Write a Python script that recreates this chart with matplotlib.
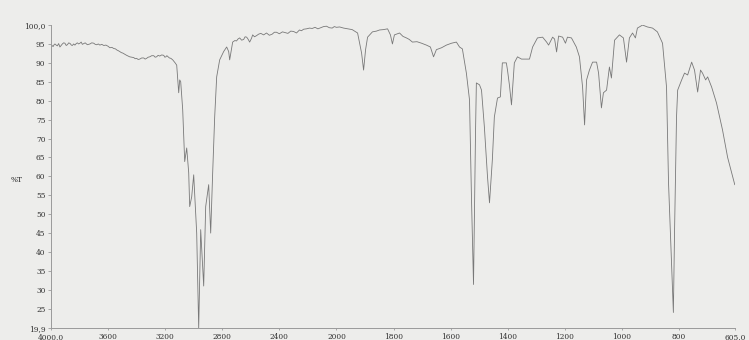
import numpy as np
import matplotlib
matplotlib.use("Agg")
import matplotlib.pyplot as plt
from matplotlib.ticker import FixedLocator, FixedFormatter

# ---- data (wavenumber cm-1, %T) ----
wavenumber = [
    4000, 3992, 3985, 3978, 3972, 3963, 3955, 3946, 3937, 3928, 3920, 3911, 3902, 3893,
    3885, 3875, 3865, 3857, 3850, 3841, 3832, 3823, 3815, 3806, 3797, 3788, 3780, 3770,
    3760, 3745, 3727, 3714, 3700, 3690, 3680, 3668, 3657, 3644, 3630, 3615, 3600, 3587,
    3573, 3560, 3548, 3538, 3527, 3515, 3506, 3497, 3484, 3470, 3459, 3448, 3434, 3420,
    3410, 3400, 3389, 3378, 3364, 3350, 3340, 3330, 3319, 3308, 3294, 3280, 3270, 3260,
    3249, 3238, 3224, 3210, 3202, 3195, 3188, 3182, 3170, 3160, 3147,
    3130, 3119, 3105, 3098, 3091, 3077, 3063, 3049, 3035, 3028, 3014, 3000, 2979, 2965,
    2951, 2930, 2916, 2895, 2881, 2867, 2853, 2839, 2818, 2790, 2769, 2755, 2748, 2727,
    2712, 2700, 2690, 2678, 2664, 2650, 2640, 2629, 2618, 2608, 2595, 2587, 2574, 2560,
    2545, 2530, 2510, 2490, 2470, 2450, 2435, 2420, 2400, 2378, 2360, 2340, 2320, 2300,
    2280, 2259, 2245, 2230, 2210, 2189, 2170, 2150, 2130, 2110, 2090, 2070, 2050, 2030,
    2015, 2000, 1989, 1975, 1960, 1945, 1926, 1912, 1905, 1898, 1891, 1874, 1860, 1849,
    1835, 1821, 1811, 1804, 1797, 1790, 1779, 1767, 1755, 1745, 1734, 1718, 1702, 1685,
    1671, 1660, 1650, 1632, 1615, 1597, 1580, 1569, 1559,
    1545, 1534, 1527, 1520, 1513, 1510, 1499, 1492, 1482, 1471, 1464, 1454, 1447, 1436,
    1426, 1419, 1405, 1401, 1394, 1387, 1377, 1366, 1352, 1324, 1313, 1296, 1278, 1264,
    1257, 1243, 1236, 1229, 1222, 1208, 1198, 1191, 1177, 1160, 1149, 1138, 1131, 1124,
    1114, 1103, 1089, 1082, 1072, 1065, 1054, 1044, 1037, 1026, 1009, 995, 984, 974,
    963, 953, 946, 928, 911, 893, 876, 858, 844, 837, 826, 820, 816,
    809, 805, 791, 781, 770, 756, 746, 735, 725, 718, 707, 700, 686, 669,
    648, 630, 605,
]
transmittance = [
    94.2, 94.6, 94.3, 94.8, 95.0, 94.7, 94.5, 95.1, 94.2, 94.6, 95.0, 95.3, 95.2, 94.6,
    94.8, 95.3, 95.1, 94.7, 94.6, 95.0, 94.7, 95.1, 95.3, 95.0, 95.2, 95.5, 94.9, 95.1,
    95.3, 94.8, 95.0, 95.3, 95.2, 94.9, 94.8, 95.0, 94.7, 94.9, 94.6, 94.7, 94.4, 94.0,
    94.1, 93.8, 93.7, 93.4, 93.2, 92.9, 92.7, 92.6, 92.3, 92.0, 91.8, 91.6, 91.5, 91.4,
    91.1, 91.2, 90.9, 91.0, 91.3, 91.3, 91.0, 91.2, 91.5, 91.6, 91.9, 91.9, 91.5, 91.6,
    92.0, 91.8, 92.1, 92.0, 91.5, 91.6, 91.9, 91.7, 91.3, 91.2, 90.8,
    90.0, 89.4, 82.1, 85.5, 85.0, 77.6, 63.9, 67.5, 61.0, 52.0, 54.6, 60.4, 45.0, 19.9,
    45.9, 31.0, 52.0, 57.8, 45.0, 61.0, 75.7, 86.3, 90.8, 93.0, 94.2, 93.0, 90.8, 95.5,
    95.9, 95.8, 96.3, 96.6, 96.0, 96.2, 96.9, 96.8, 96.2, 95.5, 96.5, 97.4, 96.9, 97.2,
    97.6, 97.8, 97.4, 97.9, 97.3, 97.6, 98.1, 98.1, 97.7, 98.2, 98.0, 97.8, 98.4, 98.3,
    97.9, 98.7, 98.5, 98.9, 99.0, 99.2, 99.1, 99.4, 99.0, 99.3, 99.6, 99.7, 99.3, 99.2,
    99.6, 99.4, 99.5, 99.2, 99.0, 98.8, 97.9, 92.6, 88.1, 93.5, 96.8, 98.2, 98.4, 98.7,
    98.8, 99.0, 97.4, 95.0, 97.4, 97.6, 97.9, 97.0, 96.6, 96.2, 95.5, 95.6, 95.2, 94.7,
    94.2, 91.6, 93.5, 94.0, 94.7, 95.2, 95.5, 94.2, 93.7,
    87.3, 80.2, 53.8, 31.4, 71.5, 84.7, 84.2, 82.8, 73.1, 59.9, 53.0, 64.4, 75.7, 80.7,
    81.0, 90.0, 90.0, 88.1, 84.0, 78.9, 90.0, 91.6, 91.0, 91.0, 94.2, 96.6, 96.8, 95.5,
    94.7, 96.8, 96.3, 92.9, 97.1, 96.8, 95.2, 96.8, 96.6, 94.2, 91.6, 83.6, 73.6, 85.5,
    88.1, 90.2, 90.2, 87.3, 78.1, 82.1, 82.8, 88.9, 86.0, 96.0, 97.4, 96.6, 90.2, 96.6,
    97.9, 96.6, 99.2, 100.0, 99.5, 99.2, 98.2, 95.2, 83.6, 58.3, 36.1, 24.0, 45.0,
    75.7, 82.8, 85.5, 87.3, 86.8, 90.2, 88.1, 82.3, 88.1, 87.3, 85.5, 86.3, 83.6, 79.4,
    72.3, 65.0, 57.8,
]

x_ticks = [4000, 3600, 3200, 2800, 2400, 2000, 1800, 1600, 1400, 1200, 1000, 800, 605]
x_labels = ["4000,0", "3600", "3200", "2800", "2400", "2000", "1800", "1600",
            "1400", "1200", "1000", "800", "605,0"]
y_ticks = [19.9, 25, 30, 35, 40, 45, 50, 55, 60, 65, 70, 75, 80, 85, 90, 95, 100]
y_labels = ["19,9", "25", "30", "35", "40", "45", "50", "55", "60", "65", "70",
            "75", "80", "85", "90", "95", "100,0"]


# IR spectrum axis: scale halves above 2000 cm-1
def fwd(w):
    w = np.asarray(w, dtype=float)
    return np.where(w > 2000, 2000 + (w - 2000) / 2.0, w)


def inv(u):
    u = np.asarray(u, dtype=float)
    return np.where(u > 2000, 2000 + (u - 2000) * 2.0, u)


bg = "#ededeb"
fig = plt.figure(figsize=(7.49, 3.40), dpi=100, facecolor=bg)
ax = fig.add_axes([0.068, 0.0353, 0.913, 0.891])
ax.set_facecolor(bg)

ax.set_xscale("function", functions=(fwd, inv))
ax.plot(wavenumber, transmittance, color="#787878", lw=0.6)
ax.set_xlim(4000, 605)
ax.set_ylim(19.9, 100)

ax.xaxis.set_major_locator(FixedLocator(x_ticks))
ax.xaxis.set_major_formatter(FixedFormatter(x_labels))
ax.xaxis.set_minor_locator(FixedLocator([]))
ax.yaxis.set_major_locator(FixedLocator(y_ticks))
ax.yaxis.set_major_formatter(FixedFormatter(y_labels))

for s in ["top", "right"]:
    ax.spines[s].set_visible(False)
for s in ["left", "bottom"]:
    ax.spines[s].set_color("#9a9a9a")
    ax.spines[s].set_linewidth(0.7)

font = dict(family="DejaVu Serif", size=5.3)
ax.tick_params(axis="both", colors="#9a9a9a", labelcolor="#303030",
               length=2.5, width=0.6, pad=1.5)
ax.tick_params(axis="x", length=1.5, pad=2)
for lab in ax.get_xticklabels() + ax.get_yticklabels():
    lab.set_fontfamily("DejaVu Serif")
    lab.set_fontsize(5.3)

fig.text(17 / 749, 1 - 180 / 340, "%T", ha="center", va="center",
         color="#303030", **font)

fig.savefig("out.png", dpi=100, facecolor=bg)
